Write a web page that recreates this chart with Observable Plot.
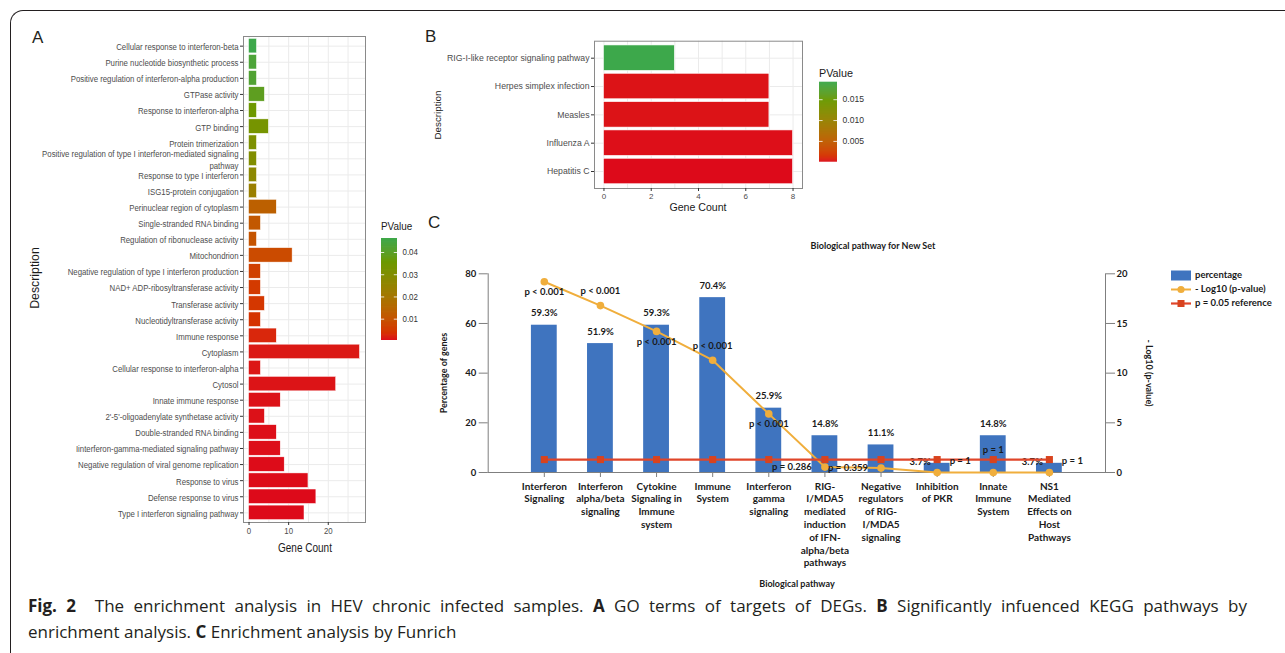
<!DOCTYPE html>
<html>
<head>
<meta charset="utf-8">
<script src="https://cdn.jsdelivr.net/npm/d3@7"></script>
<script src="https://cdn.jsdelivr.net/npm/@observablehq/plot@0.6"></script>
<style>
  html, body { margin: 0; padding: 0; background: #fff; }
  #root { position: relative; width: 1285px; height: 653px; overflow: hidden; background: #fff; }
  #root svg { position: absolute; }
  .lbl { position: absolute; white-space: pre; line-height: 1; }
  .frameBox { position: absolute; left: 10px; top: 10px; width: 1300px; height: 660px;
    border-left: 1.5px solid #231f20; border-top: 1.5px solid #231f20; border-top-left-radius: 13px; box-sizing: border-box; }
  .caption { position: absolute; left: 28px; font-family: "Open Sans", sans-serif; font-size: 17px;
    line-height: 26px; color: #231f20; white-space: nowrap; }
  .caption.l1 { top: 593px; width: 1219px; text-align: justify; text-align-last: justify; white-space: normal; }
  .caption.l2 { top: 619px; }
  .legC { position: absolute; left: 1171px; font-family: Lato, sans-serif; font-weight: bold; font-size: 9.5px; color: #1a1a1a; }
  .legC svg { position: static !important; vertical-align: middle; margin-right: 4px; }
</style>
</head>
<body>
<div id="root"></div>
<script>
// ---------------- DATA ----------------
// Panel A: GO terms (top to bottom as drawn)
const goTerms = [
  "Cellular response to interferon-beta",
  "Purine nucleotide biosynthetic process",
  "Positive regulation of interferon-alpha production",
  "GTPase activity",
  "Response to interferon-alpha",
  "GTP binding",
  "Protein trimerization",
  "Positive regulation of type I interferon-mediated signaling pathway",
  "Response to type I interferon",
  "ISG15-protein conjugation",
  "Perinuclear region of cytoplasm",
  "Single-stranded RNA binding",
  "Regulation of ribonuclease activity",
  "Mitochondrion",
  "Negative regulation of type I interferon production",
  "NAD+ ADP-ribosyltransferase activity",
  "Transferase activity",
  "Nucleotidyltransferase activity",
  "Immune response",
  "Cytoplasm",
  "Cellular response to interferon-alpha",
  "Cytosol",
  "Innate immune response",
  "2'-5'-oligoadenylate synthetase activity",
  "Double-stranded RNA binding",
  "Iinterferon-gamma-mediated signaling pathway",
  "Negative regulation of viral genome replication",
  "Response to virus",
  "Defense response to virus",
  "Type I interferon signaling pathway"
];
const goCounts = [2, 2, 2, 4, 2, 5, 2, 2, 2, 2, 7, 3, 2, 11, 3, 3, 4, 3, 7, 28, 3, 22, 8, 4, 7, 8, 9, 15, 17, 14];
const goPValues = [0.0463, 0.043, 0.042, 0.039, 0.035, 0.033, 0.031, 0.030, 0.027, 0.023,
                   0.013, 0.011, 0.010, 0.008, 0.006, 0.005, 0.0045, 0.004, 0.0025, 0.0012,
                   0.0011, 0.0009, 0.0008, 0.0007, 0.0006, 0.0006, 0.0005, 0.0005, 0.0004, 0.0004];
const goPDomain = [0.0004, 0.0463];
const goLegendTicks = [0.01, 0.02, 0.03, 0.04];

// Panel B: KEGG pathways
const keggTerms = ["RIG-I-like receptor signaling pathway", "Herpes simplex infection", "Measles", "Influenza A", "Hepatitis C"];
const keggCounts = [3, 7, 7, 8, 8];
const keggPValues = [0.0192, 0.0002, 0.0002, 0.0001, 0.00001];
const keggPDomain = [0.00001, 0.0192];
const keggLegendTicks = [0.005, 0.010, 0.015];
const keggXTicks = [0, 2, 4, 6, 8];

// Panel C: Funrich
const pathways = [
  "Interferon Signaling",
  "Interferon alpha/beta signaling",
  "Cytokine Signaling in Immune system",
  "Immune System",
  "Interferon gamma signaling",
  "RIG-I/MDA5 mediated induction of IFN-alpha/beta pathways",
  "Negative regulators of RIG-I/MDA5 signaling",
  "Inhibition of PKR",
  "Innate Immune System",
  "NS1 Mediated Effects on Host Pathways"
];
const pathwayTickLabels = [
  "Interferon\nSignaling",
  "Interferon\nalpha/beta\nsignaling",
  "Cytokine\nSignaling in\nImmune\nsystem",
  "Immune\nSystem",
  "Interferon\ngamma\nsignaling",
  "RIG-\nI/MDA5\nmediated\ninduction\nof IFN-\nalpha/beta\npathways",
  "Negative\nregulators\nof RIG-\nI/MDA5\nsignaling",
  "Inhibition\nof PKR",
  "Innate\nImmune\nSystem",
  "NS1\nMediated\nEffects on\nHost\nPathways"
];
const percentGenes = [59.3, 51.9, 59.3, 70.4, 25.9, 14.8, 11.1, 3.7, 14.8, 3.7];
const negLog10P = [19.2, 16.8, 14.2, 11.3, 5.9, 0.544, 0.445, 0, 0, 0];
const pLabels = ["p < 0.001", "p < 0.001", "p < 0.001", "p < 0.001", "p < 0.001", "p = 0.286", "p = 0.359", "p = 1", "p = 1", "p = 1"];
const refP = 0.05;
const pctTicks = [0, 20, 40, 60, 80];
const logTicks = [0, 5, 10, 15, 20];

// ---------------- STYLE ----------------
const gradLow = "#dd0a1a", gradHigh = "#3da84b";
const blue = "#3f74bf", orange = "#f0ae3c", redLine = "#e0462a", redMark = "#d8431e";
const root = document.getElementById("root");

function place(svg, left, top) {
  svg.style.left = left + "px";
  svg.style.top = top + "px";
  root.appendChild(svg);
  return svg;
}
function label(text, cx, cy, css, opts = {}) {
  const d = document.createElement("div");
  d.className = "lbl";
  d.textContent = text;
  Object.assign(d.style, css);
  const anchor = opts.anchor || "middle";
  const tx = anchor === "start" ? "0" : anchor === "end" ? "-100%" : "-50%";
  d.style.transformOrigin = anchor === "start" ? "0 50%" : anchor === "end" ? "100% 50%" : "50% 50%";
  d.style.left = cx + "px";
  d.style.top = cy + "px";
  let t = `translate(${tx},-50%)`;
  if (opts.rotate) t += ` rotate(${opts.rotate}deg)`;
  if (opts.sx) t += ` scaleX(${opts.sx})`;
  d.style.transform = t;
  root.appendChild(d);
  return d;
}
function condense(svg, selector, s) {
  svg.querySelectorAll(selector).forEach(t => {
    const tr = t.getAttribute("transform") || "";
    const x = +t.getAttribute("x") || 0;
    t.setAttribute("transform", `${tr} translate(${x},0) scale(${s},1) translate(${-x},0)`);
  });
}
const wrapLong = d => d.length > 55 ? d.replace(/\s(\S+)$/, "\n$1") : d;
const colorScale = domain => ({type: "linear", domain, range: [gradLow, gradHigh], interpolate: "hcl"});

// outer frame
const fb = document.createElement("div");
fb.className = "frameBox";
root.appendChild(fb);

// ---------------- PANEL A ----------------
const dataA = goTerms.map((term, i) => ({term, count: goCounts[i], p: goPValues[i]}));
const maxA = d3.max(goCounts);
const plotA = Plot.plot({
  width: 380, height: 560,
  marginLeft: 243, marginRight: 15, marginTop: 36, marginBottom: 38,
  style: {fontFamily: "'Liberation Sans', Arial, sans-serif", fontSize: "9.2px", color: "#333", background: "transparent"},
  x: {domain: [-0.05 * maxA, 1.05 * maxA]},
  y: {type: "band", domain: goTerms, paddingInner: 0.1, paddingOuter: 0.15, round: false},
  color: colorScale(goPDomain),
  marks: [
    Plot.gridX([0, 5, 10, 15, 20, 25], {stroke: "#ebebeb", strokeOpacity: 1}),
    Plot.gridY(goTerms, {stroke: "#ebebeb", strokeOpacity: 1}),
    Plot.barX(dataA, {x: "count", y: "term", fill: "p", stroke: "#fff", strokeWidth: 0.5}),
    Plot.frame({stroke: "#8a8a8a"}),
    Plot.axisY({tickSize: 3, tickPadding: 2, tickFormat: wrapLong, lineHeight: 1.33, fill: "#4d4d4d", stroke: "#333", label: null}),
    Plot.axisX({ticks: [0, 10, 20], tickSize: 3, tickPadding: 2, fill: "#4d4d4d", stroke: "#333", label: null})
  ]
});
place(plotA, 0, 0);
condense(plotA, '[aria-label="y-axis tick label"] text', 0.85);
condense(plotA, '[aria-label="x-axis tick label"] text', 0.85);

// colour-bar legends
function rampLegend(domain, ticks, fmt, w, h, margins, fontSize, sx) {
  const [lo, hi] = domain, n = 80, step = (hi - lo) / n;
  const stripes = d3.range(n).map(k => lo + k * step);
  const svg = Plot.plot({
    width: w, height: h, ...margins,
    style: {fontFamily: "'Liberation Sans', Arial, sans-serif", fontSize: fontSize + "px", color: "#333", background: "transparent"},
    x: {domain: [0, 1], axis: null},
    y: {domain, axis: null},
    color: colorScale(domain),
    marks: [
      Plot.rect(stripes, {x1: 0, x2: 1, y1: d => d, y2: d => Math.min(hi, d + step * 1.6), fill: d => d + step / 2}),
      Plot.ruleY(ticks, {x1: 0, x2: 0.2, stroke: "#fff", strokeWidth: 0.8}),
      Plot.ruleY(ticks, {x1: 0.8, x2: 1, stroke: "#fff", strokeWidth: 0.8}),
      Plot.axisY({anchor: "right", ticks, tickFormat: fmt, tickSize: 0, tickPadding: 5, label: null, fill: "#333"})
    ]
  });
  if (sx) condense(svg, '[aria-label="y-axis tick label"] text', sx);
  return svg;
}
place(rampLegend(goPDomain, goLegendTicks, d => d.toFixed(2), 60, 120,
  {marginLeft: 11, marginRight: 33, marginTop: 8, marginBottom: 10}, 9, 0.88), 370, 230);

// ---------------- PANEL B ----------------
const dataB = keggTerms.map((term, i) => ({term, count: keggCounts[i], p: keggPValues[i]}));
const maxB = d3.max(keggCounts);
const plotB = Plot.plot({
  width: 400, height: 200,
  marginLeft: 174, marginRight: 18, marginTop: 20.7, marginBottom: 32,
  style: {fontFamily: "'Liberation Sans', Arial, sans-serif", fontSize: "8.7px", color: "#333", background: "transparent"},
  x: {domain: [-0.05 * maxB, 1.05 * maxB]},
  y: {type: "band", domain: keggTerms, paddingInner: 0.1, paddingOuter: 0.15, round: false},
  color: colorScale(keggPDomain),
  marks: [
    Plot.gridX(d3.range(0, maxB + 1), {stroke: "#ebebeb", strokeOpacity: 1}),
    Plot.gridY(keggTerms, {stroke: "#ebebeb", strokeOpacity: 1}),
    Plot.barX(dataB, {x: "count", y: "term", fill: "p", stroke: "#fff", strokeWidth: 0.6}),
    Plot.frame({stroke: "#8a8a8a"}),
    Plot.axisY({tickSize: 3, tickPadding: 2, fill: "#4d4d4d", stroke: "#333", label: null}),
    Plot.axisX({ticks: keggXTicks, tickSize: 3, tickPadding: 2, fill: "#4d4d4d", stroke: "#333", label: null, fontSize: 8})
  ]
});
place(plotB, 420, 20);

place(rampLegend(keggPDomain, keggLegendTicks, d => d.toFixed(3), 70, 100,
  {marginLeft: 11, marginRight: 41, marginTop: 9.7, marginBottom: 10.3}, 8.6, 0), 808, 72);

// ---------------- PANEL C ----------------
const C_W = 760, C_H = 370, C_L = 420, C_T = 230;
const cMargins = {marginLeft: 67.7, marginRight: 75, marginTop: 43.3, marginBottom: 128};
const xC = {type: "band", domain: pathways, paddingInner: 0.54, paddingOuter: 0.77, round: false};
const dataC = pathways.map((pathway, i) => ({pathway, pct: percentGenes[i], nlp: negLog10P[i], plabel: pLabels[i]}));
const tickLabelOf = new Map(pathways.map((p, i) => [p, pathwayTickLabels[i]]));
const pctText = d => d.pct.toFixed(1) + "%";
const cStyle = {fontFamily: "Lato, 'Open Sans', sans-serif", fontWeight: "bold", fontSize: "9.5px", color: "#1a1a1a", background: "transparent"};

const c1 = Plot.plot({
  width: C_W, height: C_H, ...cMargins, style: cStyle,
  x: {...xC},
  y: {domain: [0, 80]},
  marks: [
    Plot.barY(dataC, {x: "pathway", y: "pct", fill: blue}),
    Plot.frame({anchor: "left", stroke: "#7f7f7f"}),
    Plot.ruleY([0], {stroke: "#7f7f7f"}),
    Plot.axisY({ticks: pctTicks, tickSize: 9, tickPadding: 3, label: null, stroke: "#7f7f7f"}),
    Plot.axisX({tickSize: 5, tickPadding: 3, lineHeight: 1.28, fontSize: 10, label: null, stroke: "#7f7f7f",
      tickFormat: d => tickLabelOf.get(d)}),
    Plot.text(dataC.filter(d => d.pct >= 5), {x: "pathway", y: "pct", text: pctText, dy: -12}),
    Plot.text(dataC.filter(d => d.pct < 5), {x: "pathway", y: "pct", text: pctText, dx: -17, dy: -1})
  ]
});
place(c1, C_L, C_T);

const refLine = -Math.log10(refP);
const pick = idx => dataC.filter((d, i) => idx.includes(i));
const c2 = Plot.plot({
  width: C_W, height: C_H, ...cMargins, style: cStyle,
  x: {...xC, axis: null},
  y: {domain: [0, 20]},
  marks: [
    Plot.frame({anchor: "right", stroke: "#7f7f7f"}),
    Plot.axisY({anchor: "right", ticks: logTicks, tickSize: 9, tickPadding: 2, label: null, stroke: "#7f7f7f"}),
    Plot.lineY(dataC, {x: "pathway", y: "nlp", stroke: orange, strokeWidth: 2}),
    Plot.dot(dataC, {x: "pathway", y: "nlp", r: 3.8, fill: orange}),
    Plot.lineY(dataC, {x: "pathway", y: () => refLine, stroke: redLine, strokeWidth: 2.2}),
    Plot.dot(dataC, {x: "pathway", y: () => refLine, symbol: "square", r: 4, fill: redMark}),
    Plot.text(pick([0, 2, 4]), {x: "pathway", y: "nlp", text: "plabel", dy: 10.5}),
    Plot.text(pick([1, 3]), {x: "pathway", y: "nlp", text: "plabel", dy: -14.5}),
    Plot.text(pick([5, 6]), {x: "pathway", y: "nlp", text: "plabel", dx: -33, dy: -0.5}),
    Plot.text(pick([7, 9]), {x: "pathway", y: "nlp", text: "plabel", dx: 23, dy: -12, ariaLabel: "callout"}),
    Plot.text(pick([8]), {x: "pathway", y: "nlp", text: "plabel", dy: -23, ariaLabel: "callout"})
  ]
});
place(c2, C_L, C_T);

// callout underline + leader lines, positioned from the plot's own scales
(function () {
  const xs = c2.scale("x"), ys = c2.scale("y");
  const svgRect = c2.getBoundingClientRect();
  const items = [...pick([7, 9]), ...pick([8])];
  const texts = c2.querySelectorAll('[aria-label="callout"] text');
  texts.forEach((t, k) => {
    const d = items[k];
    if (!d) return;
    const r = t.getBoundingClientRect();
    const x0 = r.left - svgRect.left - 2, x1 = r.right - svgRect.left + 2;
    const yU = r.bottom - svgRect.top - 0.5;
    const px = xs.apply(d.pathway) + (xs.bandwidth || 0) / 2, py = ys.apply(d.nlp);
    const ns = "http://www.w3.org/2000/svg";
    const u = document.createElementNS(ns, "line");
    u.setAttribute("x1", x0); u.setAttribute("x2", x1); u.setAttribute("y1", yU); u.setAttribute("y2", yU);
    u.setAttribute("stroke", "#404040"); u.setAttribute("stroke-width", 0.8);
    c2.appendChild(u);
    const l = document.createElementNS(ns, "line");
    const lx = (x0 + x1) / 2 > px + 5 ? x0 : px;
    l.setAttribute("x1", px); l.setAttribute("y1", py); l.setAttribute("x2", lx); l.setAttribute("y2", yU);
    l.setAttribute("stroke", "#404040"); l.setAttribute("stroke-width", 0.8);
    c2.appendChild(l);
  });
})();

// ---------------- TEXT / TITLES ----------------
const panelCss = {fontFamily: "'Liberation Sans', Arial, sans-serif", fontSize: "17px", color: "#231f20"};
label("A", 32, 37, panelCss, {anchor: "start"});
label("B", 425, 36, panelCss, {anchor: "start"});
label("C", 428, 222, panelCss, {anchor: "start"});

const ggTitle = {fontFamily: "'Liberation Sans', Arial, sans-serif", color: "#1a1a1a"};
label("Description", 35, 278, {...ggTitle, fontSize: "12.3px"}, {rotate: -90, sx: 1});
label("Gene Count", 305, 548, {...ggTitle, fontSize: "12.5px"}, {sx: 0.8});
label("PValue", 381, 226, {...ggTitle, fontSize: "11px"}, {anchor: "start", sx: 0.9});
label("Description", 438, 115, {...ggTitle, fontSize: "9.8px"}, {rotate: -90});
label("Gene Count", 698, 207, {...ggTitle, fontSize: "10.6px"});
label("PValue", 819, 73, {...ggTitle, fontSize: "10.8px"}, {anchor: "start"});

const xlCss = {fontFamily: "Lato, 'Open Sans', sans-serif", fontWeight: "bold", fontSize: "9px", color: "#1a1a1a"};
label("Biological pathway for New Set", 873, 245, xlCss);
label("Percentage of genes", 443, 373, xlCss, {rotate: -90});
label("- Log10 (p-value)", 1149, 373, xlCss, {rotate: 90});
label("Biological pathway", 797, 583, xlCss);

// legend C
const legC = [
  {name: "percentage", svg: `<svg width="20" height="11"><rect x="0" y="0.5" width="20" height="10" fill="${blue}"/></svg>`, y: 275},
  {name: "- Log10 (p-value)", svg: `<svg width="20" height="11"><line x1="0" x2="20" y1="5.5" y2="5.5" stroke="${orange}" stroke-width="2"/><circle cx="10" cy="5.5" r="3.6" fill="${orange}"/></svg>`, y: 289},
  {name: `p = ${refP} reference`, svg: `<svg width="20" height="11"><line x1="0" x2="20" y1="5.5" y2="5.5" stroke="${redLine}" stroke-width="2.2"/><rect x="6.5" y="2" width="7" height="7" fill="${redMark}"/></svg>`, y: 303}
];
legC.forEach(e => {
  const d = document.createElement("div");
  d.className = "legC";
  d.style.top = (e.y - 6) + "px";
  d.innerHTML = e.svg;
  const s = document.createElement("span");
  s.textContent = e.name;
  d.appendChild(s);
  root.appendChild(d);
});

// caption (justified paragraph: first line spans the full measure)
const cap1 = document.createElement("div");
cap1.className = "caption l1";
cap1.innerHTML = '<b>Fig. 2</b>&nbsp; The enrichment analysis in HEV chronic infected samples. <b>A</b> GO terms of targets of DEGs. <b>B</b> Significantly infuenced KEGG pathways by';
root.appendChild(cap1);
const cap2 = document.createElement("div");
cap2.className = "caption l2";
cap2.innerHTML = 'enrichment analysis. <b>C</b> Enrichment analysis by Funrich';
root.appendChild(cap2);
</script>
</body>
</html>
